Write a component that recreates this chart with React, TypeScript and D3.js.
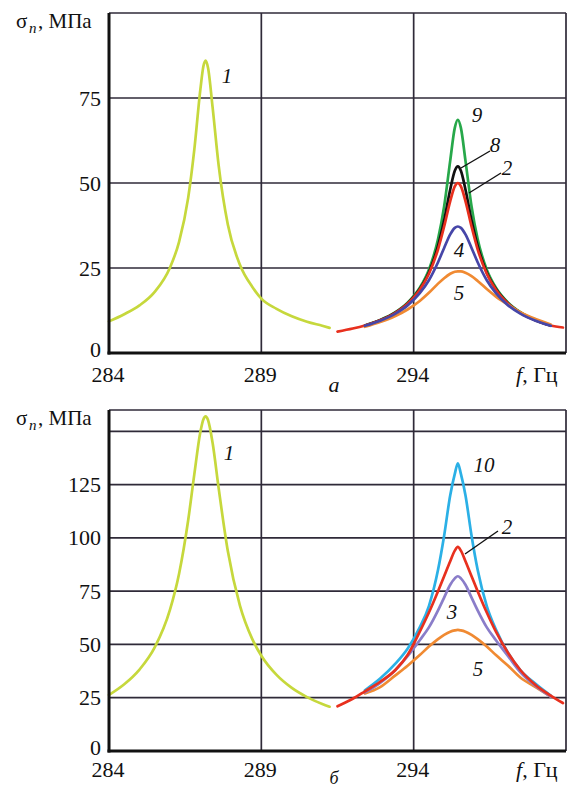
import React from 'react';
import * as d3 from 'd3';

// ---------- data ----------
const xTickValues = [284, 289, 294];
const xGridValues = [289, 294, 299];

const topYTicks = [0, 25, 50, 75];
const topYGrid = [25, 50, 75, 100];
const botYTicks = [0, 25, 50, 75, 100, 125];
const botYGrid = [25, 50, 75, 100, 125, 150, 160];

// frequencies, Hz
const freqLeft = [284, 284.5, 285, 285.5, 286, 286.3, 286.6, 286.8, 287.0, 287.1, 287.17, 287.25, 287.4, 287.6, 287.9, 288.3, 288.7, 289, 289.5, 290, 290.5, 291, 291.24];
const freqRight = [292.4, 292.9, 293.4, 293.8, 294.2, 294.5, 294.8, 295.0, 295.2, 295.35, 295.45, 295.55, 295.7, 295.9, 296.1, 296.4, 296.7, 297.1, 297.5, 298.0, 298.5];
const freqRed = [291.5, 292.0, 292.4, 292.9, 293.4, 293.8, 294.2, 294.5, 294.8, 295.0, 295.2, 295.35, 295.45, 295.55, 295.7, 295.9, 296.1, 296.4, 296.7, 297.1, 297.5, 298.0, 298.5, 298.9];

// panel a, stress MPa
const topCurve1 = [9.3, 11.4, 14.0, 18.0, 25.1, 32.7, 45.7, 59.8, 77.6, 84.4, 86, 83.9, 72.3, 55.1, 37.8, 25.9, 19.5, 16.0, 13.0, 10.8, 9.2, 8.0, 7.4];
const topCurve2 = [6.3, 7.2, 8.1, 9.6, 11.8, 14.5, 18.6, 23.3, 30.5, 37.2, 44.7, 49.0, 50, 49.0, 44.7, 37.2, 30.5, 23.3, 18.6, 14.5, 11.8, 9.6, 8.1, 7.5];
const topCurve4 = [8.0, 9.5, 11.6, 14.0, 17.6, 21.4, 26.7, 30.9, 34.9, 36.8, 37.2, 36.8, 34.9, 30.9, 26.7, 21.4, 17.6, 14.0, 11.6, 9.5, 8.0];
const topCurve5 = [7.7, 9.1, 10.9, 12.8, 15.3, 17.7, 20.4, 22.0, 23.3, 23.9, 24, 24.0, 23.6, 22.6, 21.2, 18.8, 16.6, 14.2, 12.0, 10.0, 8.4];
const topCurve8 = [8.1, 9.6, 11.9, 14.6, 18.8, 23.7, 31.5, 39.0, 48.1, 53.6, 54.9, 53.6, 48.1, 39.0, 31.5, 23.7, 18.8, 14.6, 11.9, 9.6, 8.1];
const topCurve9 = [8.1, 9.7, 12.0, 14.8, 19.2, 24.5, 33.5, 43.1, 56.6, 66.2, 68.6, 66.2, 56.6, 43.1, 33.5, 24.5, 19.2, 14.8, 12.0, 9.7, 8.1];

// panel б, stress MPa
const botCurve1 = [26.3, 31.3, 38.2, 48.6, 66.2, 83.2, 108.4, 129.8, 149.8, 155.7, 157, 155.3, 144.6, 123.2, 93.8, 68.1, 52.6, 44.7, 35.7, 29.6, 25.3, 22.1, 20.8];
const botCurve2 = [21, 24.5, 28, 32.5, 38, 45, 56, 65, 75, 82, 89, 94, 95.8, 94, 89, 82, 75, 65, 56, 46, 38, 31, 26, 22.5];
const botCurve3 = [27.5, 32, 38, 44.5, 52, 58, 66, 72, 78, 81, 82, 81, 78, 72, 66, 58, 52, 44.5, 37, 30.5, 25.5];
const botCurve5 = [27, 30, 35.5, 40, 45, 49, 52.5, 54.5, 56, 56.6, 56.8, 56.6, 56, 54.5, 52.5, 49, 45, 40, 34.5, 30, 25.5];
const botCurve10 = [28.5, 34, 41, 48, 58, 68, 85, 101, 120, 130, 135, 130, 120, 101, 85, 68, 57, 46, 38, 31.5, 26];

// ---------- styles / layout ----------
const COLORS: Record<string, string> = {
  c1: '#c6d83c',
  c2: '#e8301e',
  c3: '#8a7dc9',
  c4: '#4646a8',
  c5: '#f08a32',
  c8: '#111111',
  c9: '#27a84a',
  c10: '#2bb0e6',
};

const FONT = '"Liberation Serif", "Times New Roman", serif';
const GRID = '#2f2a38';

const x = d3.scaleLinear().domain([284, 299]).range([109, 566]);
const yTop = d3.scaleLinear().domain([0, 100]).range([353, 13]);
const yBot = d3.scaleLinear().domain([0, 160]).range([751, 410]);

type Series = { key: string; freq: number[]; values: number[] };

const topSeries: Series[] = [
  { key: 'c1', freq: freqLeft, values: topCurve1 },
  { key: 'c9', freq: freqRight, values: topCurve9 },
  { key: 'c8', freq: freqRight, values: topCurve8 },
  { key: 'c2', freq: freqRed, values: topCurve2 },
  { key: 'c5', freq: freqRight, values: topCurve5 },
  { key: 'c4', freq: freqRight, values: topCurve4 },
];

const botSeries: Series[] = [
  { key: 'c1', freq: freqLeft, values: botCurve1 },
  { key: 'c10', freq: freqRight, values: botCurve10 },
  { key: 'c5', freq: freqRight, values: botCurve5 },
  { key: 'c3', freq: freqRight, values: botCurve3 },
  { key: 'c2', freq: freqRed, values: botCurve2 },
];

type Label = { t: string; x: number; y: number };
const topLabels: Label[] = [
  { t: '1', x: 227, y: 83 },
  { t: '9', x: 477, y: 122 },
  { t: '8', x: 495, y: 152 },
  { t: '2', x: 507, y: 175 },
  { t: '4', x: 459, y: 257 },
  { t: '5', x: 459, y: 300 },
];
const topLeaders = [
  [490, 151, 461, 168],
  [501, 173, 469, 193],
];
const botLabels: Label[] = [
  { t: '1', x: 229, y: 460 },
  { t: '10', x: 484, y: 472 },
  { t: '2', x: 507, y: 534 },
  { t: '3', x: 452, y: 619 },
  { t: '5', x: 478, y: 676 },
];
const botLeaders = [[498, 531, 465, 554]];

function Panel({
  y,
  yGrid,
  yTicks,
  series,
  labels,
  leaders,
  letter,
  letterY,
  letterSize,
  xLabelY,
  titleY,
}: {
  y: d3.ScaleLinear<number, number>;
  yGrid: number[];
  yTicks: number[];
  series: Series[];
  labels: Label[];
  leaders: number[][];
  letter: string;
  letterY: number;
  letterSize: number;
  xLabelY: number;
  titleY: number;
}) {
  const [y0, y1] = y.range();
  const x0 = x(284);
  const xr = x(299);
  const line = d3
    .line<[number, number]>()
    .x((d) => x(d[0]))
    .y((d) => y(d[1]))
    .curve(d3.curveMonotoneX);
  return (
    <g>
      {/* grid */}
      {yGrid.map((v) => (
        <line key={'h' + v} x1={x0} x2={xr} y1={y(v)} y2={y(v)} stroke={GRID} strokeWidth={1.7} />
      ))}
      {xGridValues.map((v) => (
        <line key={'v' + v} x1={x(v)} x2={x(v)} y1={y0} y2={y1} stroke={GRID} strokeWidth={1.7} />
      ))}
      {/* curves */}
      {series.map((s, i) => (
        <path
          key={i}
          d={line(s.freq.map((f, j) => [f, s.values[j]] as [number, number])) || ''}
          fill="none"
          stroke={COLORS[s.key]}
          strokeWidth={2.7}
          strokeLinecap="round"
          strokeLinejoin="round"
        />
      ))}
      {/* axes */}
      <line x1={x0} x2={x0} y1={y0 + 1.5} y2={y1} stroke="#111" strokeWidth={3} />
      <line x1={x0 - 1.5} x2={xr} y1={y0} y2={y0} stroke="#111" strokeWidth={3} />
      {/* y ticks */}
      {yTicks.map((v) => (
        <text key={'yt' + v} x={101} y={y(v) + (v === 0 ? 3.5 : 7.5)} textAnchor="end" fontSize={22} fontFamily={FONT} fill="#111">
          {v}
        </text>
      ))}
      {/* x ticks */}
      {xTickValues.map((v) => (
        <text key={'xt' + v} x={x(v) - 1} y={xLabelY} textAnchor="middle" fontSize={22} fontFamily={FONT} fill="#111">
          {v}
        </text>
      ))}
      <text x={516} y={xLabelY} fontSize={22} fontFamily={FONT} fill="#111">
        <tspan fontStyle="italic">f</tspan>, Гц
      </text>
      <text x={334} y={letterY} textAnchor="middle" fontSize={letterSize} fontStyle="italic" fontFamily={FONT} fill="#111">
        {letter}
      </text>
      {/* y title */}
      <text x={16} y={titleY} fontSize={21} fontFamily={FONT} fill="#111">σ</text>
      <text x={29} y={titleY + 5} fontSize={15} fontStyle="italic" fontFamily={FONT} fill="#111">n</text>
      <text x={38} y={titleY} fontSize={21} fontFamily={FONT} fill="#111">, МПа</text>
      {/* curve labels */}
      {leaders.map((l, i) => (
        <line key={'ld' + i} x1={l[0]} y1={l[1]} x2={l[2]} y2={l[3]} stroke="#111" strokeWidth={1.4} />
      ))}
      {labels.map((l, i) => (
        <text key={'lb' + i} x={l.x} y={l.y} textAnchor="middle" fontSize={21} fontStyle="italic" fontFamily={FONT} fill="#111">
          {l.t}
        </text>
      ))}
    </g>
  );
}

export default function App() {
  return (
    <svg
      width={567}
      height={787}
      style={{ position: 'absolute', left: 0, top: 0, background: '#fff' }}
      xmlns="http://www.w3.org/2000/svg"
    >
      <rect x={0} y={0} width={567} height={787} fill="#fff" />
      <Panel
        y={yTop}
        yGrid={topYGrid}
        yTicks={topYTicks}
        series={topSeries}
        labels={topLabels}
        leaders={topLeaders}
        letter="а"
        letterY={392}
        letterSize={22}
        xLabelY={382}
        titleY={28}
      />
      <Panel
        y={yBot}
        yGrid={botYGrid}
        yTicks={botYTicks}
        series={botSeries}
        labels={botLabels}
        leaders={botLeaders}
        letter="б"
        letterY={784}
        letterSize={18}
        xLabelY={777}
        titleY={425}
      />
    </svg>
  );
}
